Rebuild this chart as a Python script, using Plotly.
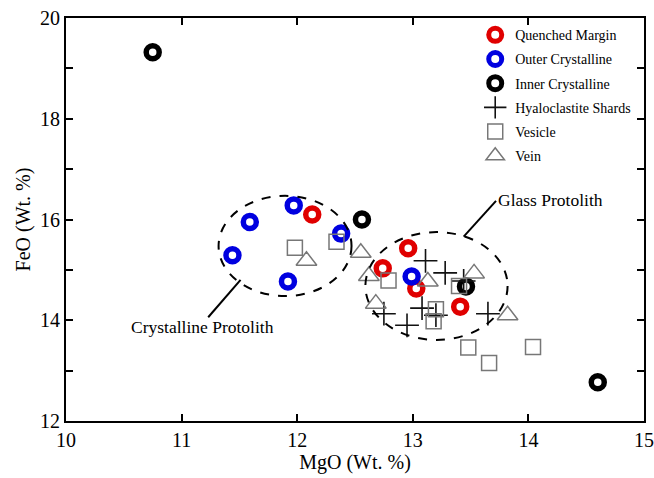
import plotly.graph_objects as go

# --- data ---
qm_x = [12.13, 12.74, 12.96, 13.03, 13.41]
qm_y = [16.10, 15.03, 15.43, 14.63, 14.27]

oc_x = [11.44, 11.59, 11.97, 11.92, 12.38, 12.99]
oc_y = [15.29, 15.95, 16.28, 14.77, 15.72, 14.87]

ic_x = [10.75, 12.56, 13.46, 14.60]
ic_y = [19.32, 16.00, 14.67, 12.77]

hs_x = [13.11, 13.28, 13.44, 13.08, 13.20, 12.95, 12.75, 13.65]
hs_y = [15.18, 14.94, 14.78, 14.24, 14.10, 13.90, 14.13, 14.13]

ve_x = [11.98, 12.34, 12.79, 13.40, 13.20, 13.18, 13.48, 13.66, 14.04]
ve_y = [15.44, 15.56, 14.79, 14.68, 14.22, 13.98, 13.46, 13.15, 13.47]

vn_x = [12.08, 12.55, 12.62, 12.68, 13.13, 13.53, 13.82]
vn_y = [15.18, 15.34, 14.88, 14.33, 14.77, 14.93, 14.10]

x_ticks = [10, 11, 12, 13, 14, 15]
y_ticks = [12, 13, 14, 15, 16, 17, 18, 19, 20]
y_ticktext = ["12", "", "14", "", "16", "", "18", "", "20"]

FONT = "'Liberation Serif', 'Times New Roman', Times, serif"

fig = go.Figure()

def add(x, y, name, symbol, color, size, lw, grp):
    fig.add_trace(go.Scatter(
        x=x, y=y, mode="markers", name=name, legendgroup=grp,
        marker=dict(symbol=symbol, color=color, size=size,
                    line=dict(width=lw, color=color)),
    ))

add(qm_x, qm_y, "Quenched Margin", "circle-open", "#e00000", 13, 5.5, "a")
add(oc_x, oc_y, "Outer Crystalline", "circle-open", "#0000e0", 13, 5.5, "b")
add(ic_x, ic_y, "Inner Crystalline", "circle-open", "#000000", 13, 5.5, "c")
add(hs_x, hs_y, "Hyaloclastite Shards", "cross-thin-open", "#111111", 17, 1.6, "d")
add(ve_x, ve_y, "Vesicle", "square-open", "#777777", 15, 1.5, "e")
add(vn_x, vn_y, "Vein", "triangle-up-open", "#777777", 18, 1.5, "f")

shapes = [
    dict(type="circle", xref="x", yref="y", x0=11.32, x1=12.47, y0=14.48, y1=16.47,
         line=dict(color="black", width=2, dash="dash")),
    dict(type="circle", xref="x", yref="y", x0=12.59, x1=13.82, y0=13.61, y1=15.75,
         line=dict(color="black", width=2, dash="dash")),
    dict(type="line", xref="x", yref="y", x0=11.51, y0=14.80, x1=11.23, y1=14.06,
         line=dict(color="black", width=2)),
    dict(type="line", xref="x", yref="y", x0=13.72, y0=16.37, x1=13.44, y1=15.66,
         line=dict(color="black", width=2)),
]

annotations = [
    dict(x=11.18, y=13.87, xref="x", yref="y", text="Crystalline Protolith",
         showarrow=False, font=dict(family=FONT, size=17.5, color="black")),
    dict(x=13.72, y=16.38, xref="x", yref="y", text="Glass Protolith",
         showarrow=False, xanchor="left", font=dict(family=FONT, size=17.5, color="black")),
]

axis_common = dict(
    showgrid=False, zeroline=False, ticks="inside", ticklen=7, tickwidth=1.5,
    tickcolor="black", showline=True, linecolor="black", linewidth=2, mirror="ticks",
    tickfont=dict(family=FONT, size=20, color="black"), automargin=False,
)

fig.update_layout(
    width=654, height=478,
    margin=dict(l=66, r=10, t=18, b=57),
    paper_bgcolor="white", plot_bgcolor="white",
    shapes=shapes, annotations=annotations,
    xaxis=dict(range=[10, 15], tickvals=x_ticks, **axis_common,
               title=dict(text="MgO (Wt. %)", font=dict(family=FONT, size=20, color="black"),
                          standoff=2)),
    yaxis=dict(range=[12, 20], tickvals=y_ticks, ticktext=y_ticktext, **axis_common,
               title=dict(text="FeO (Wt. %)", font=dict(family=FONT, size=20, color="black"),
                          standoff=4)),
    legend=dict(x=0.708, y=0.997, xanchor="left", yanchor="top",
                bgcolor="rgba(0,0,0,0)", traceorder="grouped", tracegroupgap=3,
                font=dict(family=FONT, size=14, color="black")),
)

fig.write_html("out.html")
